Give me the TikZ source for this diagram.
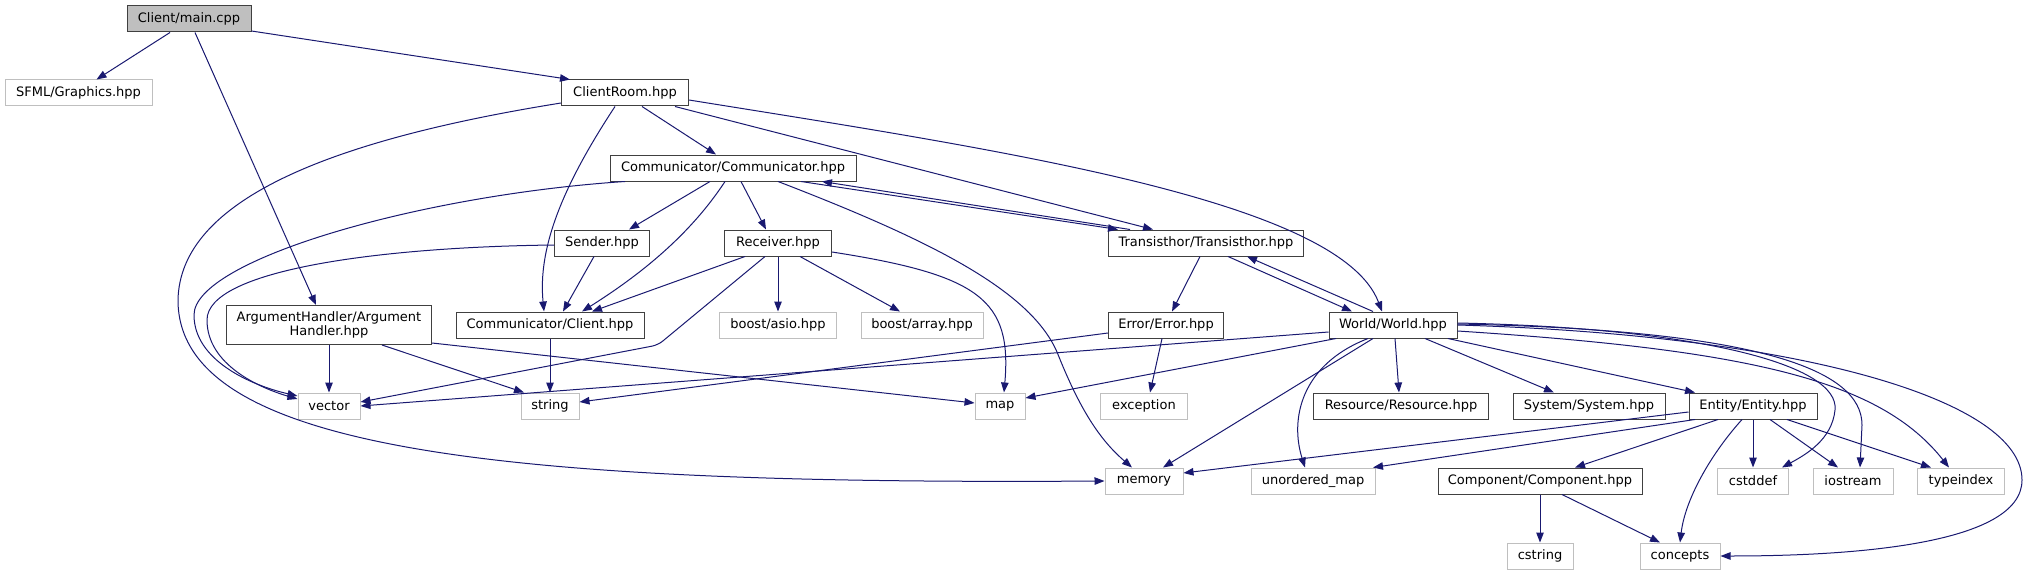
\documentclass[tikz,border=0pt]{standalone}
\usepackage{fontspec}
\setmainfont{DejaVu Sans}
\usepackage{tikz}
\usetikzlibrary{arrows.meta}

\definecolor{edgeblue}{HTML}{191970}
\definecolor{boxgray}{HTML}{BFBFBF}
\definecolor{boxdark}{HTML}{404040}

\begin{document}
\begin{tikzpicture}[
    x=1pt, y=-1pt,
    hdr/.style={rectangle, draw=boxdark, line width=1pt, fill=white, inner sep=0pt,
                minimum height=26pt, font=\fontsize{13}{14}\selectfont, align=center},
    sys/.style={hdr, draw=boxgray},
    root/.style={hdr, fill=boxgray},
    inc/.style={-{Triangle[length=10pt, width=7.5pt]}, draw=edgeblue, line width=1pt}
]
\useasboundingbox (0,0) rectangle (2028,575);

%% ===== ROW 0-1: main file and its direct includes =====
\node[root, minimum width=124pt] (main)       at (189,19)   {Client/main.cpp};
\node[sys,  minimum width=147pt] (sfml)       at (78.5,93)  {SFML/Graphics.hpp};
\node[hdr,  minimum width=127pt] (clientroom) at (625,93)   {ClientRoom.hpp};

%% ===== ROW 2-3: communicator and transisthor =====
\node[hdr, minimum width=246pt] (commcomm)    at (733,168)  {Communicator/Communicator.hpp};
\node[hdr, minimum width=95pt]  (sender)      at (602,243)  {Sender.hpp};
\node[hdr, minimum width=107pt] (receiver)    at (778,243)  {Receiver.hpp};
\node[hdr, minimum width=195pt] (transisthor) at (1206,243) {Transisthor/Transisthor.hpp};

%% ===== ROW 4 =====
\node[hdr, minimum width=205pt, minimum height=39pt] (arghandler) at (329,325)
      {ArgumentHandler/Argument\\Handler.hpp};
\node[hdr, minimum width=188pt] (commclient) at (550,325)  {Communicator/Client.hpp};
\node[sys, minimum width=117pt] (asio)       at (778,325)  {boost/asio.hpp};
\node[sys, minimum width=122pt] (array)      at (922,325)  {boost/array.hpp};
\node[hdr, minimum width=115pt] (error)      at (1166,325) {Error/Error.hpp};
\node[hdr, minimum width=128pt] (world)      at (1393,325) {World/World.hpp};

%% ===== ROW 5 =====
\node[sys, minimum width=62pt]  (vector)    at (329,406)  {vector};
\node[sys, minimum width=58pt]  (string)    at (550,406)  {string};
\node[sys, minimum width=50pt]  (map)       at (1000,406) {map};
\node[sys, minimum width=87pt]  (exception) at (1144,406) {exception};
\node[hdr, minimum width=175pt] (resource)  at (1401,406) {Resource/Resource.hpp};
\node[hdr, minimum width=152pt] (system)    at (1589,406) {System/System.hpp};
\node[hdr, minimum width=128pt] (entity)    at (1753,406) {Entity/Entity.hpp};

%% ===== ROW 6-7 =====
\node[sys, minimum width=78pt]  (memory)    at (1144,481) {memory};
\node[sys, minimum width=124pt] (unordered) at (1313,481) {unordered\_map};
\node[hdr, minimum width=204pt] (component) at (1540,481) {Component/Component.hpp};
\node[sys, minimum width=71pt]  (cstddef)   at (1753,481) {cstddef};
\node[sys, minimum width=80pt]  (iostream)  at (1853,481) {iostream};
\node[sys, minimum width=87pt]  (typeindex) at (1961,481) {typeindex};
\node[sys, minimum width=66pt]  (cstring)   at (1540,556) {cstring};
\node[sys, minimum width=80pt]  (concepts)  at (1680,556) {concepts};

%% ===== ARROWS: main =====
\draw[inc] ([xshift=-19]main.south) -- ([xshift=18]sfml.north);
\draw[inc] ([yshift=-12]main.east)  -- ([xshift=-55]clientroom.north);
\draw[inc] ([xshift=6]main.south)   -- ([xshift=-13]arghandler.north);

%% ===== ARROWS: ClientRoom =====
\draw[inc] ([yshift=-10]clientroom.west) .. controls (330,140) and (180,200) .. (178,300)
           .. controls (178,450) and (500,485) .. (memory.west);
\draw[inc] ([xshift=-10]clientroom.south) .. controls (560,190) and (538,250) .. ([xshift=-6]commclient.north);
\draw[inc] ([xshift=17]clientroom.south) -- ([xshift=-17]commcomm.north);
\draw[inc] ([xshift=50]clientroom.south) -- ([xshift=-53]transisthor.north);
\draw[inc] ([yshift=-7]clientroom.east) .. controls (1000,150) and (1340,200) .. ([xshift=-11]world.north);

%% ===== ARROWS: Communicator =====
\draw[inc] ([xshift=-108]commcomm.south) .. controls (420,195) and (194,260) .. (194,315)
           .. controls (194,360) and (250,385) .. ([yshift=10]vector.west);
\draw[inc] ([xshift=-23]commcomm.south) -- ([xshift=27]sender.north);
\draw[inc] ([xshift=-8]commcomm.south) .. controls (690,235) and (640,275) .. ([xshift=32]commclient.north);
\draw[inc] ([xshift=8]commcomm.south) -- ([xshift=-12]receiver.north);
\draw[inc] ([xshift=45]commcomm.south) .. controls (930,240) and (1030,290) .. (1057,352)
           .. controls (1080,410) and (1100,440) .. ([xshift=-12]memory.north);
\draw[inc] ([xshift=68]commcomm.south) -- ([xshift=-88]transisthor.north);
\draw[inc] ([xshift=-76]transisthor.north) -- ([xshift=89]commcomm.south);

%% ===== ARROWS: Sender / Receiver =====
\draw[inc] ([yshift=-2]sender.west) .. controls (380,247) and (207,270) .. (207,320)
           .. controls (207,365) and (260,388) .. ([yshift=7]vector.west);
\draw[inc] ([xshift=-8]sender.south) -- ([xshift=13]commclient.north);
\draw[inc] ([xshift=-33]receiver.south) -- ([xshift=42]commclient.north);
\draw[inc, rounded corners=6pt] ([xshift=-13]receiver.south) -- (658,345) -- ([yshift=4]vector.east);
\draw[inc] (receiver.south) -- (asio.north);
\draw[inc] ([xshift=22]receiver.south) -- ([xshift=-22]array.north);
\draw[inc] ([yshift=-9]receiver.east) .. controls (980,275) and (1012,300) .. ([xshift=4]map.north);

%% ===== ARROWS: Transisthor / Error =====
\draw[inc] ([xshift=22]transisthor.south) -- ([xshift=-41]world.north);
\draw[inc] ([xshift=-20]world.north) -- ([xshift=41]transisthor.south);
\draw[inc] ([xshift=-6]transisthor.south) -- ([xshift=6]error.north);
\draw[inc] ([xshift=-4]error.south) -- ([xshift=6]exception.north);
\draw[inc] ([yshift=-8]error.west) -- ([yshift=4]string.east);

%% ===== ARROWS: ArgumentHandler / Client =====
\draw[inc] (arghandler.south) -- (vector.north);
\draw[inc] ([xshift=53]arghandler.south) -- ([xshift=-26]string.north);
\draw[inc] ([yshift=-18]arghandler.east) -- ([yshift=3]map.west);
\draw[inc] (commclient.south) -- (string.north);

%% ===== ARROWS: World =====
\draw[inc] ([yshift=-7]world.west) -- (vector.east);
\draw[inc] ([xshift=-57]world.south) -- ([yshift=8]map.east);
\draw[inc] ([xshift=-20]world.south) -- ([xshift=19]memory.north);
\draw[inc] ([xshift=-25]world.south) .. controls (1300,365) and (1290,420) .. ([xshift=-8]unordered.north);
\draw[inc] ([xshift=2]world.south) -- ([xshift=-2]resource.north);
\draw[inc] ([xshift=32]world.south) -- ([xshift=-35]system.north);
\draw[inc] ([xshift=55]world.south) -- ([xshift=-58]entity.north);
\draw[inc] ([yshift=2]world.east) .. controls (1700,328) and (1840,365) .. (1835,410)
           .. controls (1832,440) and (1805,455) .. ([xshift=29]cstddef.north);
\draw[inc] ([yshift=1]world.east) .. controls (1760,330) and (1862,370) .. (1862,425)
           -- ([xshift=7]iostream.north);
\draw[inc] ([yshift=-6]world.east) .. controls (1750,350) and (1880,380) .. ([xshift=-12]typeindex.north);
\draw[inc] (world.east) .. controls (1800,335) and (2022,400) .. (2022,480)
           .. controls (2022,545) and (1850,556) .. (concepts.east);

%% ===== ARROWS: Entity / Component =====
\draw[inc] ([yshift=-6]entity.west) -- ([yshift=8]memory.east);
\draw[inc] ([xshift=-58]entity.south) -- ([xshift=60]unordered.north);
\draw[inc] ([xshift=-35]entity.south) -- ([xshift=35]component.north);
\draw[inc] ([xshift=-11]entity.south) .. controls (1710,455) and (1685,500) .. (concepts.north);
\draw[inc] (entity.south) -- (cstddef.north);
\draw[inc] ([xshift=17]entity.south) -- ([xshift=-15]iostream.north);
\draw[inc] ([xshift=34]entity.south) -- ([xshift=-30]typeindex.north);
\draw[inc] (component.south) -- (cstring.north);
\draw[inc] ([xshift=22]component.south) -- ([xshift=-20]concepts.north);

\end{tikzpicture}
\end{document}
